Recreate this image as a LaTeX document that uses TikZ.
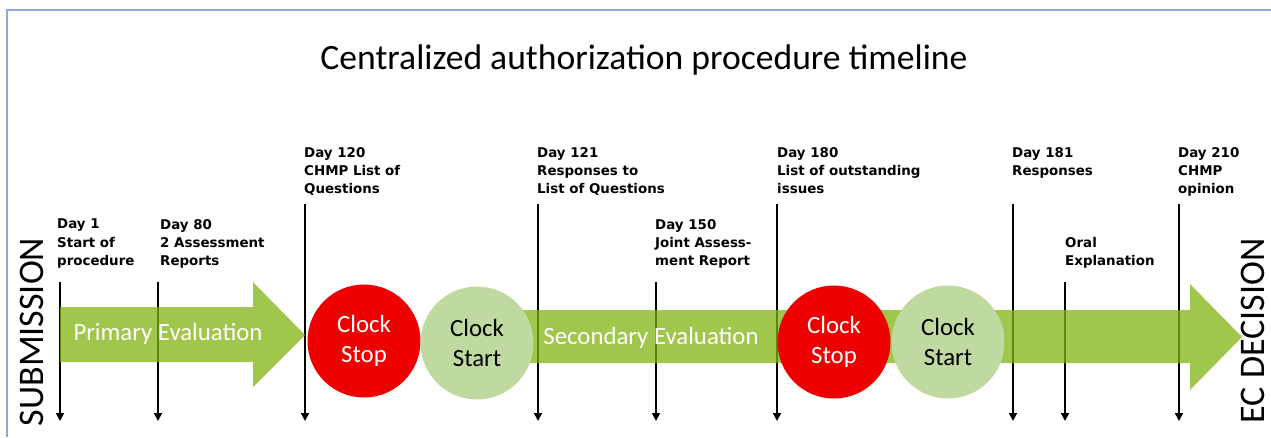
\documentclass[tikz,border=0pt]{standalone}
\usepackage{fontspec}
\setmainfont{Carlito}
\newfontfamily\labfont{DejaVu Sans}
\usetikzlibrary{arrows.meta}
\definecolor{framec}{HTML}{8EA9DB}
\definecolor{arrowg}{RGB}{128,179,15}
\definecolor{stopred}{HTML}{EE0000}
\definecolor{startg}{HTML}{C0D9A0}
\tikzset{
  daylabel/.style={font=\labfont\bfseries\fontsize{13.4}{18.3}\selectfont, align=left, anchor=north west, inner sep=0pt},
  dayline/.style={line width=1.7pt, -{Triangle[length=8pt,width=8pt]}},
  bigarrow/.style={fill=arrowg, fill opacity=0.75, draw=none},
  evaltext/.style={text=white, font=\fontsize{24.8}{28}\selectfont, inner sep=0pt},
  clockstop/.style={circle, fill=stopred, minimum size=113pt, inner sep=0pt, text=white, align=center, font=\fontsize{24.8}{30}\selectfont},
  clockstart/.style={circle, fill=startg, minimum size=113pt, inner sep=0pt, text=black, align=center, font=\fontsize{24.8}{30}\selectfont},
  sidetext/.style={rotate=90, font=\fontsize{36}{40}\selectfont, inner sep=0pt},
}
\begin{document}
\begin{tikzpicture}[x=1pt,y=-1pt]
\useasboundingbox (0,0) rectangle (1271,437);
% frame
\draw[framec, line width=1.5pt] (7,437) -- (7,10) -- (1271,10);
% title
\node[font=\fontsize{35.6}{40}\selectfont, inner sep=0pt] (title) at (644,60) {Centralized authorization procedure timeline};
% vertical day lines
\foreach \n/\x/\yt in {a/60/282, b/158/282, c/305/204, d/538/204, e/656/282, f/777/204, g/1013/204, h/1065/282, i/1179/204}{
  \coordinate (\n top) at (\x,\yt);
  \coordinate (\n bot) at (\x,421);
  \draw[dayline] (\n top) -- (\n bot);
}
% green arrows
\path[bigarrow] (60,307) -- (253,307) -- (253,282) -- (305,335) -- (253,387) -- (253,362) -- (60,362) -- cycle;
\path[bigarrow] (520,310) -- (1190,310) -- (1190,284) -- (1242,337) -- (1190,390) -- (1190,363) -- (520,363) -- cycle;
% circles
\node[clockstop] (stop1) at (364,341) {Clock\\Stop};
\node[clockstart] (start1) at (477,343) {Clock\\Start};
\node[clockstop] (stop2) at (834,342) {Clock\\Stop};
\node[clockstart] (start2) at (948,342) {Clock\\Start};
% evaluation texts
\node[evaltext] (prim) at (168,334) {Primary Evaluation};
\node[evaltext] (sec) at (651,338) {Secondary Evaluation};
% side texts
\node[sidetext] (sub) at (32,332) {SUBMISSION};
\node[sidetext] (ec) at (1253,331) {EC DECISION};
% day labels
\node[daylabel] (l1) at (57,219) {Day 1\\Start of\\procedure};
\node[daylabel] (l80) at (160,219) {Day 80\\2 Assessment\\Reports};
\node[daylabel] (l120) at (304,147) {Day 120\\CHMP List of\\Questions};
\node[daylabel] (l121) at (537,147) {Day 121\\Responses to\\List of Questions};
\node[daylabel] (l150) at (655,219) {Day 150\\Joint Assess-\\ment Report};
\node[daylabel] (l180) at (777,147) {Day 180\\List of outstanding\\issues};
\node[daylabel] (l181) at (1012,147) {Day 181\\Responses};
\node[daylabel] (loral) at (1065,237) {Oral\\Explanation};
\node[daylabel] (l210) at (1178,147) {Day 210\\CHMP\\opinion};
\end{tikzpicture}
\end{document}
